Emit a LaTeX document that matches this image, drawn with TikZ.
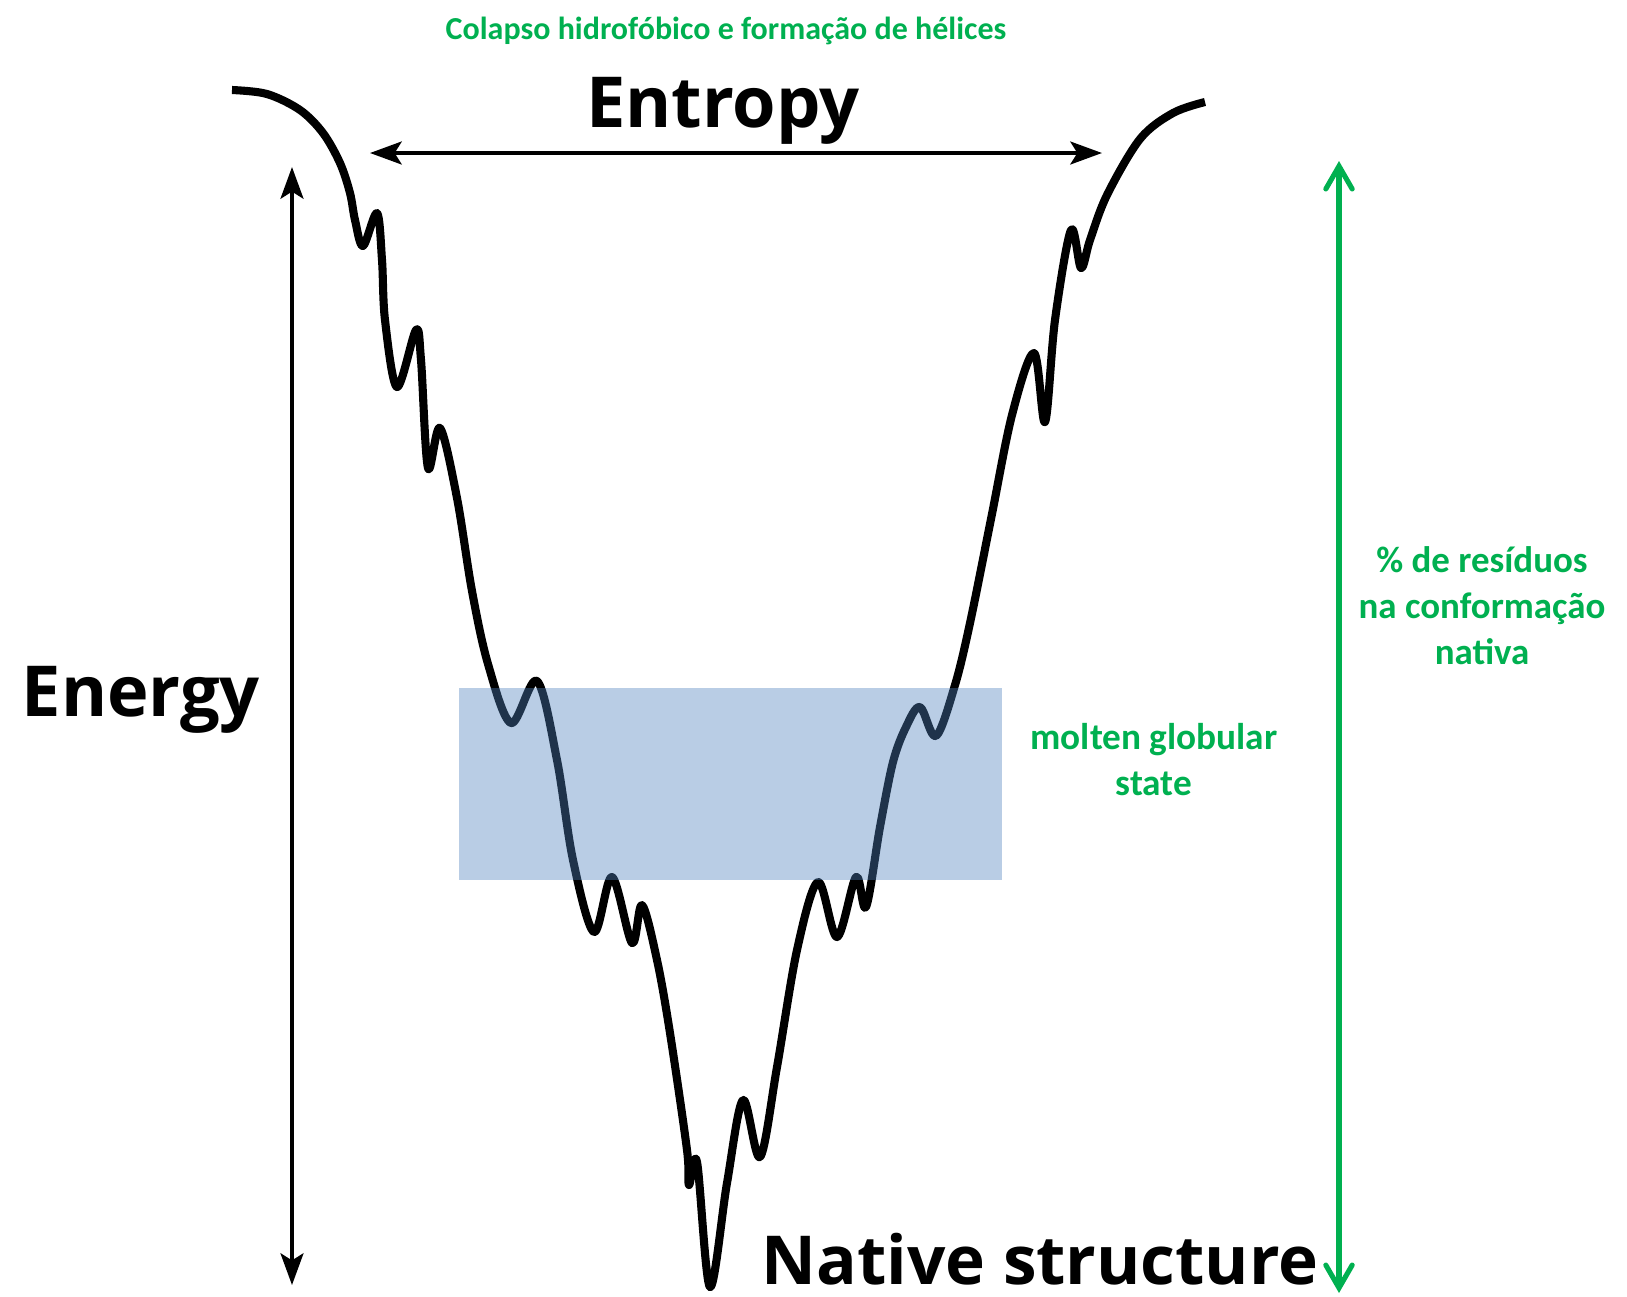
\documentclass[tikz,border=0pt]{standalone}
\usepackage{fontspec}
\setmainfont{Carlito}
\newfontfamily\headfont{Open Sans}
\usetikzlibrary{arrows.meta}
\begin{document}
\begin{tikzpicture}[x=0.01cm, y=-0.01cm,
    heading/.style={inner sep=0pt, font=\headfont\bfseries\fontsize{20}{24}\selectfont},
    note/.style={text=foldgreen, align=center, font=\bfseries\fontsize{10.5}{13.1}\selectfont},
    axis/.style={line width=1.15pt, >={Stealth[length=9pt,width=6.5pt,inset=2pt]}, <->},
    progress/.style={draw=foldgreen, line width=1.45pt, line cap=round,
      >={Straight Barb[length=6.5pt,width=7.5pt,line cap=round]}, <->}]
    \definecolor{foldgreen}{RGB}{0,176,80}
    \definecolor{moltenblue}{RGB}{79,129,189}

    \useasboundingbox (0,0) rectangle (1627,1296);

    \draw[line width=2.3pt, line join=round] plot[smooth, tension=0.55] coordinates {
      (232,90) (267,94) (300,110) (323,133) (340,163) (350,193) (355,220)
      (363,246) (377,213)
      (382,260) (385,320) (397,387) (416,330) (421,360) (428,468) (440,428)
      (457,498) (472,591) (488,664) (511,723) (537,681) (557,760) (573,860)
      (594,932) (612,877) (632,943) (642,905) (657,960) (670,1033) (687,1150)
      (689,1185) (697,1162) (710,1287) (727,1183) (743,1100) (760,1157)
      (777,1067) (797,950) (818,882) (837,937) (856,877) (866,907) (880,827)
      (893,762) (906,727) (920,707) (936,736) (955,685) (970,623) (991,519)
      (1012,415) (1034,353) (1045,422) (1055,320) (1071,230) (1081,268)
      (1090,240) (1107,195) (1140,139) (1173,113) (1205,102)
    };

    \fill[moltenblue, fill opacity=0.4] (459,688) rectangle (1002,880);

    \node[heading, anchor=base] (entropy) at (723,127) {Entropy};
    \node[heading, anchor=base west] (energy) at (21,716) {Energy};
    \node[heading, anchor=base west, font=\headfont\bfseries\fontsize{19.2}{23}\selectfont] (native) at (761,1284) {Native structure};

    \node[note, anchor=base, font=\bfseries\fontsize{9.1}{11}\selectfont] (colapso) at (726,39) {Colapso hidrofóbico e formação de hélices};
    \node[note] (residuos) at (1482,606) {\% de resíduos\\na conformação\\nativa};
    \node[note, font=\bfseries\fontsize{10.6}{13.1}\selectfont] (molten) at (1154,760) {molten globular\\state};

    \coordinate (entL) at (370,153);
    \coordinate (entR) at (1102,153);
    \coordinate (enTop) at (292,167);
    \coordinate (enBot) at (292,1285);
    \coordinate (resTop) at (1339,161);
    \coordinate (resBot) at (1339,1293);

    \draw[axis] (entL) -- (entR);
    \draw[axis] (enBot) -- (enTop);
    \draw[progress] (resBot) -- (resTop);
  \end{tikzpicture}
\end{document}
